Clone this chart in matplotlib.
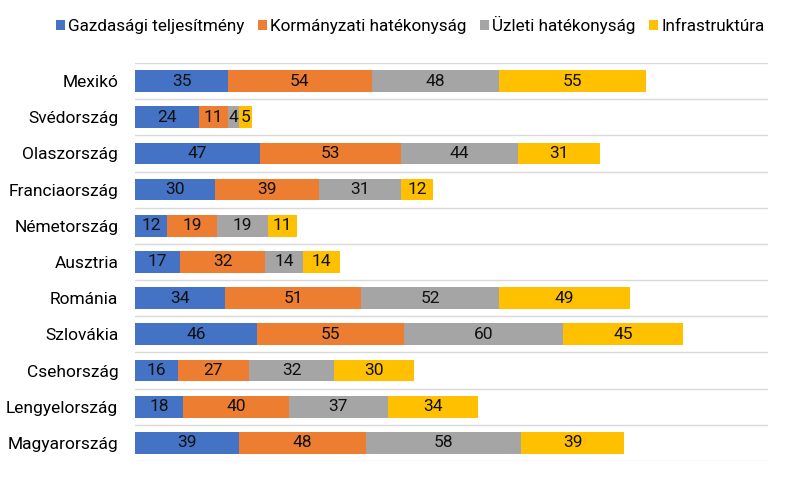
import matplotlib.pyplot as plt
import numpy as np

plt.rcParams['font.family'] = ['Roboto', 'DejaVu Sans']

countries = ['Mexikó', 'Svédország', 'Olaszország', 'Franciaország', 'Németország',
             'Ausztria', 'Románia', 'Szlovákia', 'Csehország', 'Lengyelország',
             'Magyarország']
series_names = ['Gazdasági teljesítmény', 'Kormányzati hatékonyság',
                'Üzleti hatékonyság', 'Infrastruktúra']
gazdasagi = [35, 24, 47, 30, 12, 17, 34, 46, 16, 18, 39]
kormanyzati = [54, 11, 53, 39, 19, 32, 51, 55, 27, 40, 48]
uzleti = [48, 4, 44, 31, 19, 14, 52, 60, 32, 37, 58]
infra = [55, 5, 31, 12, 11, 14, 49, 45, 30, 34, 39]
colors = ['#4472C4', '#ED7D31', '#A5A5A5', '#FFC000']

fig = plt.figure(figsize=(7.97, 4.79), dpi=100)
ax = fig.add_axes([0.1694, 0.0376, 0.7942, 0.8309])

y = np.arange(len(countries))
left = np.zeros(len(countries))
for name, vals, col in zip(series_names, [gazdasagi, kormanyzati, uzleti, infra], colors):
    vals = np.array(vals)
    bars = ax.barh(y, vals, left=left, height=0.6, color=col, label=name)
    ax.bar_label(bars, labels=[str(v) for v in vals], label_type='center',
                 fontsize=12.5, color='#111111')
    left += vals

ax.set_xlim(0, 238)
ax.set_ylim(len(countries) - 0.5, -0.5)
ax.set_yticks(y)
ax.set_yticklabels(countries, fontsize=12.5)
ax.set_yticks(np.arange(len(countries) + 1) - 0.5, minor=True)
ax.grid(which='minor', axis='y', color='#D9D9D9', linewidth=1)
ax.tick_params(axis='y', which='both', length=0, pad=12)
ax.set_xticks([])
for s in ax.spines.values():
    s.set_visible(False)

fig.legend(loc='center', bbox_to_anchor=(0.515, 0.948), ncol=4, frameon=False,
           fontsize=12.3, handlelength=0.5, handleheight=0.5, handletextpad=0.2,
           columnspacing=0.8, borderaxespad=0)

fig.savefig('out.png', dpi=100)
